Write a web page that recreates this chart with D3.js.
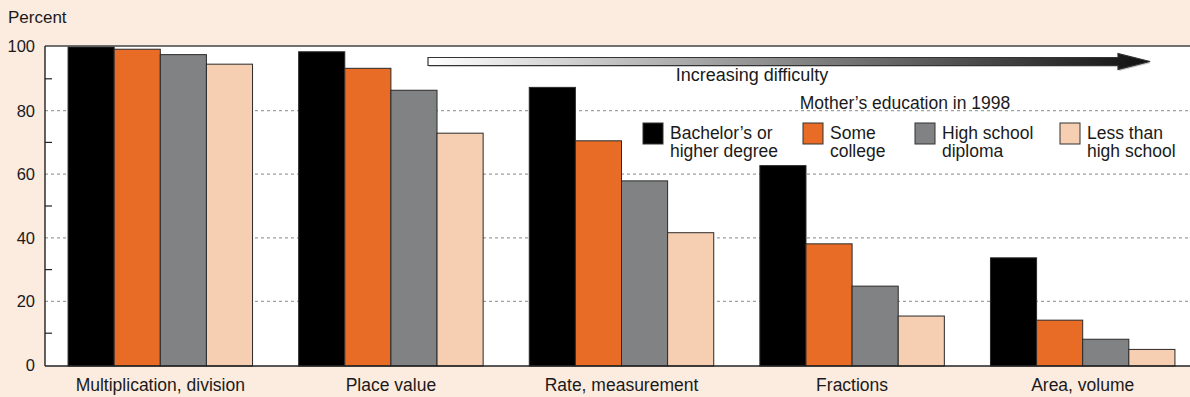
<!DOCTYPE html>
<html>
<head>
<meta charset="utf-8">
<script src="https://cdn.jsdelivr.net/npm/d3@7"></script>
<style>
  html, body { margin: 0; padding: 0; background: #fcebdf; }
  svg { display: block; }
  text { font-family: "Liberation Sans", Arial, Helvetica, sans-serif; fill: #1a1a1a; }
</style>
</head>
<body>
<svg id="chart" width="1190" height="397"></svg>
<script>
const categories = ["Multiplication, division", "Place value", "Rate, measurement", "Fractions", "Area, volume"];
const seriesNames = ["Bachelor\u2019s or|higher degree", "Some|college", "High school|diploma", "Less than|high school"];
const bachelor = [100, 98.5, 87.3, 62.7, 33.7];
const someCollege = [99.3, 93.3, 70.5, 38.1, 14.1];
const highSchool = [97.6, 86.4, 57.9, 24.8, 8.1];
const lessThanHS = [94.6, 72.9, 41.6, 15.4, 4.9];
const yTicks = [0, 20, 40, 60, 80, 100];
const yMinorTicks = [10, 30, 50, 70, 90];
const colors = ["#000000", "#e86c25", "#818283", "#f6ceb1"];
const seriesValues = [bachelor, someCollege, highSchool, lessThanHS];

const svg = d3.select("#chart");
const W = 1190, H = 397;
const plotLeft = 45, plotRight = 1190, plotTop = 46, plotBottom = 366;

// background
svg.append("rect").attr("x", 0).attr("y", 0).attr("width", W).attr("height", H).attr("fill", "#fcebdf");
svg.append("rect").attr("x", plotLeft).attr("y", plotTop).attr("width", plotRight - plotLeft)
  .attr("height", plotBottom - plotTop).attr("fill", "#ffffff");

const y = d3.scaleLinear().domain([0, 100]).range([365, 47]);
const x0 = d3.scaleBand().domain(categories).range([45, 45 + 230.6 * 5]).paddingInner(0.2).paddingOuter(0.1);
const x1 = d3.scaleBand().domain(d3.range(4)).range([0, x0.bandwidth()]);

// gridlines
svg.append("g").selectAll("line").data(yTicks.filter(d => d > 0 && d < 100)).join("line")
  .attr("x1", plotLeft).attr("x2", plotRight)
  .attr("y1", d => y(d)).attr("y2", d => y(d))
  .attr("stroke", "#a0a0a0").attr("stroke-width", 1.2).attr("stroke-dasharray", "3,3");

// arrow
const defs = svg.append("defs");
const grad = defs.append("linearGradient").attr("id", "arrowGrad").attr("x1", "0%").attr("x2", "100%");
grad.append("stop").attr("offset", "0%").attr("stop-color", "#ffffff");
grad.append("stop").attr("offset", "100%").attr("stop-color", "#111111");
const ax0 = 428, ax1 = 1118, tip = 1150, ay = 61.5;
const arrowPath = `M${ax0},${ay - 4} L${ax1},${ay - 4} L${ax1},${ay - 8} L${tip},${ay} L${ax1},${ay + 8} L${ax1},${ay + 4} L${ax0},${ay + 4} Z`;
svg.append("path").attr("d", arrowPath).attr("transform", "translate(1,1.5)").attr("fill", "#c8c8c8");
svg.append("path").attr("d", arrowPath).attr("fill", "url(#arrowGrad)").attr("stroke", "#333").attr("stroke-width", 1.2);
svg.append("text").attr("x", 752).attr("y", 81).attr("text-anchor", "middle")
  .style("font-size", "18px").text("Increasing difficulty");

// bars
const groups = svg.append("g").selectAll("g").data(categories).join("g")
  .attr("transform", d => `translate(${x0(d)},0)`);
groups.selectAll("rect").data((d, i) => seriesValues.map((s, k) => ({ k, v: s[i] }))).join("rect")
  .attr("x", d => x1(d.k)).attr("width", x1.bandwidth())
  .attr("y", d => Math.max(plotTop, y(d.v))).attr("height", d => y(0) + 1 - Math.max(plotTop, y(d.v)))
  .attr("fill", d => colors[d.k]).attr("stroke", "#2a2a2a").attr("stroke-width", 1);

// axes lines
svg.append("line").attr("x1", plotLeft).attr("x2", plotRight).attr("y1", plotTop).attr("y2", plotTop)
  .attr("stroke", "#444").attr("stroke-width", 1.6);
svg.append("line").attr("x1", plotLeft).attr("x2", plotRight).attr("y1", plotBottom).attr("y2", plotBottom)
  .attr("stroke", "#222").attr("stroke-width", 1.4);
svg.append("line").attr("x1", plotLeft).attr("x2", plotLeft).attr("y1", plotTop).attr("y2", plotBottom)
  .attr("stroke", "#222").attr("stroke-width", 1.4);

// minor ticks
svg.append("g").selectAll("line").data(yMinorTicks).join("line")
  .attr("x1", plotLeft).attr("x2", plotLeft + 7)
  .attr("y1", d => y(d)).attr("y2", d => y(d))
  .attr("stroke", "#222").attr("stroke-width", 1.2);

// y tick labels
svg.append("g").selectAll("text").data(yTicks).join("text")
  .attr("x", 35).attr("y", d => (d === 100 ? plotTop : y(d)) + 6)
  .attr("text-anchor", "end").style("font-size", "16.5px").text(d => d);

svg.append("text").attr("x", 8).attr("y", 23).style("font-size", "17px").text("Percent");

// category labels
svg.append("g").selectAll("text").data(categories).join("text")
  .attr("x", d => x0(d) + x0.bandwidth() / 2).attr("y", 391)
  .attr("text-anchor", "middle").style("font-size", "17.5px").text(d => d);

// legend
svg.append("text").attr("x", 905).attr("y", 109).attr("text-anchor", "middle")
  .style("font-size", "17.5px").text("Mother\u2019s education in 1998");
const legendX = [643, 803, 915, 1060];
const leg = svg.append("g").selectAll("g").data(seriesNames).join("g")
  .attr("transform", (d, i) => `translate(${legendX[i]},123)`);
leg.append("rect").attr("x", 0).attr("y", 0).attr("width", 20).attr("height", 21)
  .attr("fill", (d, i) => colors[i]).attr("stroke", "#333").attr("stroke-width", 1);
leg.each(function(d) {
  const t = d3.select(this).append("text").attr("x", 27).attr("y", 16).style("font-size", "17.5px");
  d.split("|").forEach((line, j) => {
    t.append("tspan").attr("x", 27).attr("dy", j === 0 ? 0 : 18).text(line);
  });
});
</script>
</body>
</html>
